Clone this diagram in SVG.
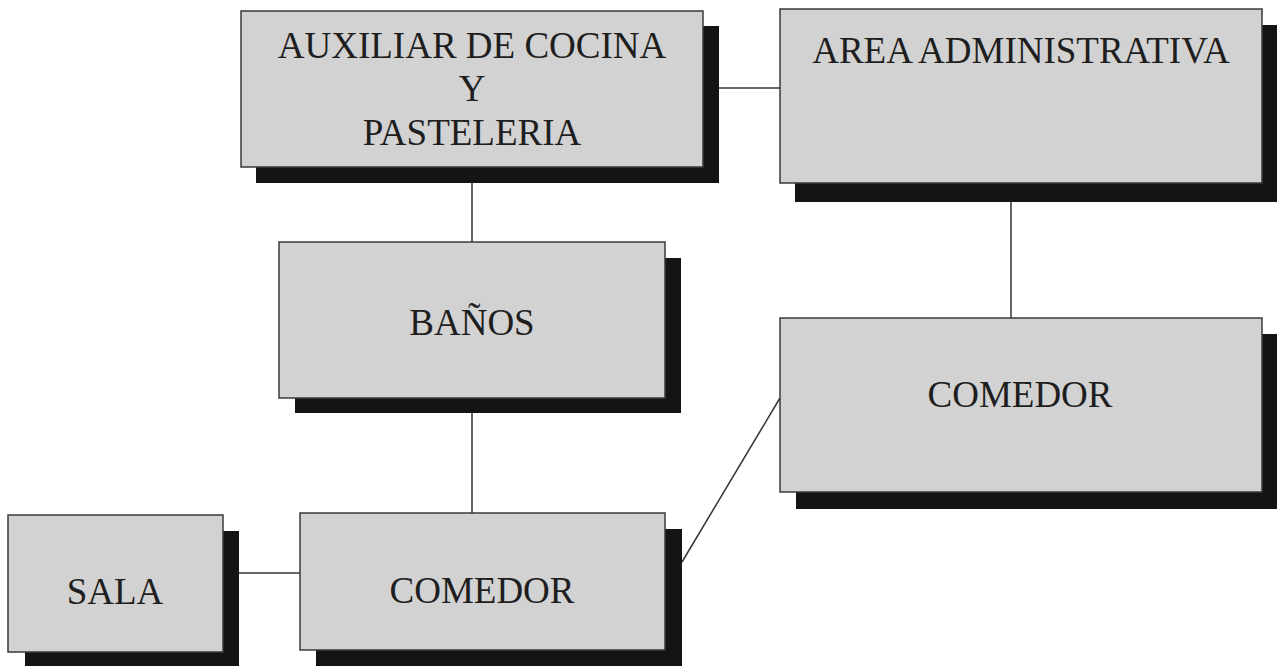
<svg xmlns="http://www.w3.org/2000/svg" width="1279" height="666" viewBox="0 0 1279 666">
<style>
.sh{fill:#141414}
.bx{fill:#d2d2d2;stroke:#3a3a3a;stroke-width:1.5}
.t{font-family:"Liberation Serif","Times New Roman",serif;font-size:37px;fill:#1e1e1e;text-anchor:middle}
.c{stroke:#333;stroke-width:1.5;fill:none}
</style>
<rect width="1279" height="666" fill="#fff"/>
<g id="connectors">
<line class="c" x1="719" y1="88" x2="780" y2="88"/>
<line class="c" x1="472" y1="183" x2="472" y2="242"/>
<line class="c" x1="1011" y1="202" x2="1011" y2="318"/>
<line class="c" x1="472" y1="413" x2="472" y2="514"/>
<line class="c" x1="239" y1="573" x2="300" y2="573"/>
<line class="c" x1="682" y1="562" x2="780" y2="398"/>
</g>
<g id="auxiliar">
<rect class="sh" x="256" y="26" width="463" height="157"/>
<rect class="bx" x="241" y="11" width="462" height="156"/>
<text class="t" x="472" y="58">AUXILIAR DE COCINA</text>
<text class="t" x="472" y="101">Y</text>
<text class="t" x="472" y="145">PASTELERIA</text>
</g>
<g id="area">
<rect class="sh" x="795" y="25" width="482" height="177"/>
<rect class="bx" x="780" y="9" width="482" height="174"/>
<text class="t" x="1021" y="63">AREA ADMINISTRATIVA</text>
</g>
<g id="banos">
<rect class="sh" x="295" y="258" width="386" height="155"/>
<rect class="bx" x="279" y="242" width="386" height="156"/>
<text class="t" x="472" y="335">BAÑOS</text>
</g>
<g id="comedor1">
<rect class="sh" x="796" y="334" width="481" height="175"/>
<rect class="bx" x="780" y="318" width="482" height="174"/>
<text class="t" x="1020" y="407">COMEDOR</text>
</g>
<g id="comedor2">
<rect class="sh" x="316" y="529" width="366" height="140"/>
<rect class="bx" x="300" y="513" width="365" height="137"/>
<text class="t" x="482" y="603">COMEDOR</text>
</g>
<g id="sala">
<rect class="sh" x="25" y="531" width="214" height="140"/>
<rect class="bx" x="8" y="515" width="215" height="137"/>
<text class="t" x="115" y="604">SALA</text>
</g>
</svg>
